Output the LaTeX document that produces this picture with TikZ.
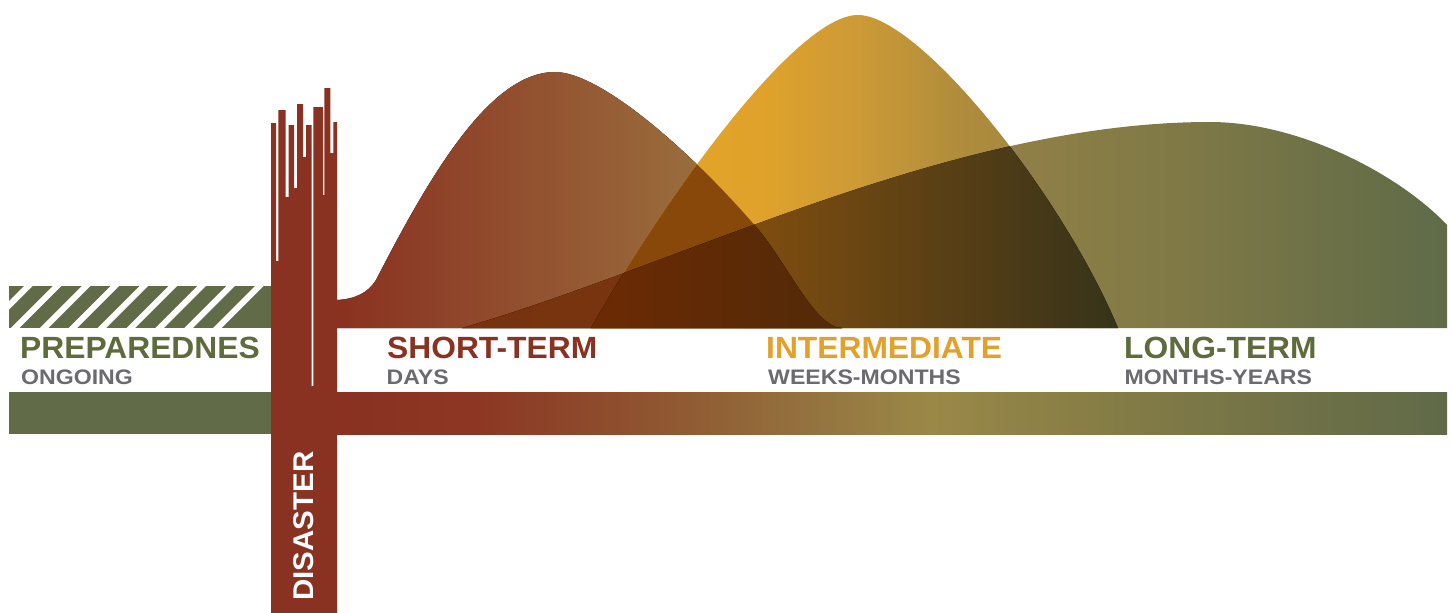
\documentclass[tikz,border=0pt]{standalone}
\usepackage{xcolor}
\usepackage{fontspec}
\setmainfont{Liberation Sans}[FakeStretch=1.035]
\newfontfamily\spanfont{Liberation Sans}[FakeStretch=1.1]
\definecolor{disasterred}{HTML}{8A3221}
\definecolor{prepgreen}{HTML}{626B47}
\definecolor{longgreen}{HTML}{5E6B3C}
\definecolor{intergold}{HTML}{E2A12C}
\definecolor{spangray}{HTML}{6B6B6F}
\definecolor{shortL}{HTML}{8A3120}
\definecolor{shortM}{HTML}{925530}
\definecolor{shortR}{HTML}{A08548}
\definecolor{interA}{HTML}{E6A526}
\definecolor{interB}{HTML}{E0A22A}
\definecolor{interC}{HTML}{CC9A36}
\definecolor{interD}{HTML}{B08C3C}
\definecolor{interE}{HTML}{938546}
\definecolor{longA}{HTML}{A88A48}
\definecolor{longB}{HTML}{918047}
\definecolor{longC}{HTML}{877C46}
\definecolor{longD}{HTML}{7D7846}
\definecolor{longE}{HTML}{707247}
\definecolor{longF}{HTML}{5F6B48}
\definecolor{slL}{HTML}{77320F}
\definecolor{slR}{HTML}{7E3C0C}
\definecolor{siC}{HTML}{87480A}
\definecolor{ilL}{HTML}{A0580A}
\definecolor{ilM}{HTML}{7A4E10}
\definecolor{ilR}{HTML}{36331A}
\definecolor{allL}{HTML}{6C2A04}
\definecolor{allR}{HTML}{522A08}
\definecolor{bandA}{HTML}{8A3121}
\definecolor{bandB}{HTML}{8C3723}
\definecolor{bandC}{HTML}{8F5430}
\definecolor{bandD}{HTML}{94713E}
\definecolor{bandE}{HTML}{9A8847}
\definecolor{bandF}{HTML}{867D46}
\definecolor{bandG}{HTML}{6F7147}
\definecolor{bandH}{HTML}{606A48}
\pgfdeclarehorizontalshading{bandshade}{100bp}{color(0bp)=(bandA); color(25bp)=(bandA);
  color(31.4bp)=(bandB); color(39.1bp)=(bandC); color(45.9bp)=(bandD); color(51.7bp)=(bandE);
  color(59.4bp)=(bandF); color(68.4bp)=(bandG); color(75bp)=(bandH); color(100bp)=(bandH)}
\pgfdeclarehorizontalshading{longshade}{100bp}{color(0bp)=(longA); color(25bp)=(longA);
  color(52.7bp)=(longB); color(57.4bp)=(longC); color(62.5bp)=(longD); color(67.5bp)=(longE);
  color(75bp)=(longF); color(100bp)=(longF)}
\pgfdeclarehorizontalshading{intershade}{100bp}{color(0bp)=(interA); color(25bp)=(interA);
  color(41bp)=(interB); color(50.5bp)=(interC); color(60bp)=(interD); color(75bp)=(interE);
  color(100bp)=(interE)}
\newcommand\longhill{(462,328)..controls(680,265)and(950,122)..(1210,122)..controls(1300,122)and(1400,175)..(1447,225)--(1447,328)--cycle}
\newcommand\shorthill{(337,328)--(337,300)..controls(355,299)and(368,293)..(376,280)..controls(430,175)and(490,72)..(555,72)..controls(600,72)and(690,150)..(757,228)..controls(787,263)and(815,328)..(842,328)--cycle}
\newcommand\interhill{(591,328)..controls(671,188)and(798,15)..(858,15)..controls(918,15)and(1060,190)..(1118,328)--cycle}

\begin{document}
\begin{tikzpicture}[x=1pt,y=-1pt,
  phase/.style={anchor=base west,inner sep=0pt,font=\bfseries\fontsize{30.7}{31}\selectfont},
  span/.style={anchor=base west,inner sep=0pt,text=spangray,font=\spanfont\bfseries\fontsize{21}{21}\selectfont}]
		\fill[white](0,0)rectangle(1452,613);
		\useasboundingbox(0,0)rectangle(1452,613);
		\begin{scope}
		\clip(9,286)rectangle(271,328);
		\fill[prepgreen](9,286)rectangle(271,328);
		\foreach \i in {0,...,8}
		\fill[white]({24+28.9*\i},286)--++(8.5,0)--++(-42,42)--++(-8.5,0)--cycle;
		\end{scope}
		\fill[prepgreen](9,392)rectangle(271,434);
		\shade[shading=bandshade](337,392)rectangle(1447,434);
		\shade[shading=longshade]\longhill;
		\fill[left color=shortL,middle color=shortM,right color=shortR]\shorthill;
		\shade[shading=intershade]\interhill;
		\begin{scope}
		\clip\shorthill;
		\fill[left color=slL,right color=slR]\longhill;
		\fill[siC]\interhill;
		\end{scope}
		\begin{scope}
		\clip\interhill;
		\clip\longhill;
		\fill[left color=ilL,middle color=ilM,right color=ilR](591,120)rectangle(1118,328);
		\clip\shorthill;
		\fill[left color=allL,right color=allR](591,120)rectangle(842,328);
		\end{scope}
		\fill[disasterred] \foreach \xl/\xr/\yt in {271/276/123, 276/278.3/261, 278.3/285.7/110, 285.7/288.7/197, 288.7/294/125, 294/297/188, 297/303/104, 303/306/157, 306/311.7/125, 311.7/313.3/386, 313.3/323/107, 323/324.3/195, 324.3/330.3/88, 330.3/333.3/153, 333.3/337/122}{(\xl,\yt)rectangle(\xr,613)};
		\node[rotate=90,inner sep=0pt,text=white,font=\bfseries\fontsize{28.5}{29}\selectfont](disaster) at (304,526){DISASTER};
		\node[phase,text=longgreen](prep) at (20,358){PREPAREDNES};
		\node[span](prepspan) at (21,384.5){ONGOING};
		\node[phase,text=disasterred](short) at (387,358){SHORT-TERM};
		\node[span](shortspan) at (386.5,384.5){DAYS};
		\node[phase,text=intergold](inter) at (766,358){INTERMEDIATE};
		\node[span](interspan) at (768,384.5){WEEKS-MONTHS};
		\node[phase,text=longgreen](long) at (1124,358){LONG-TERM};
		\node[span](longspan) at (1124.5,384.5){MONTHS-YEARS};
		\end{tikzpicture}
\end{document}
